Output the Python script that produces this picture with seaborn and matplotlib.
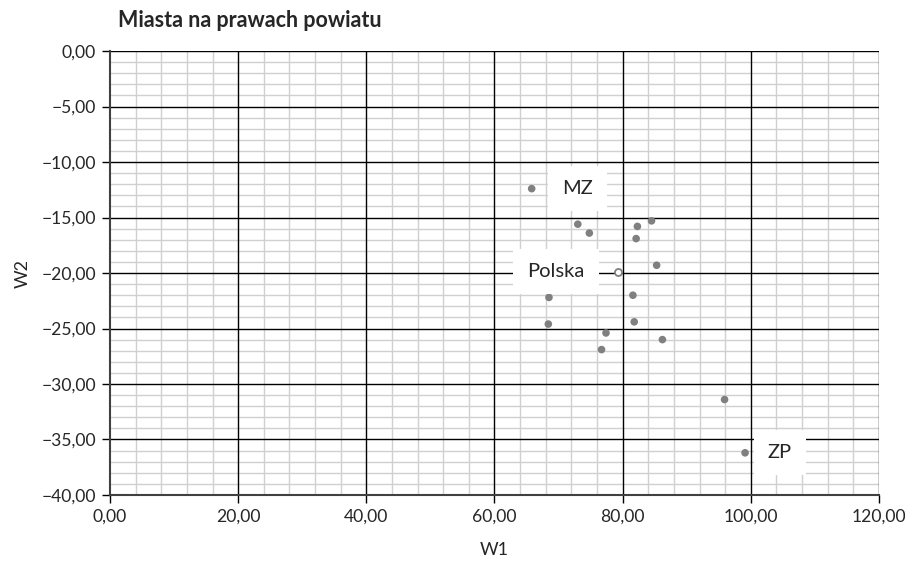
import numpy as np
import pandas as pd
import seaborn as sns
import matplotlib.pyplot as plt
from matplotlib.ticker import MultipleLocator, FuncFormatter

# dane
w1 = [65.8, 73.0, 74.8, 82.3, 84.5, 82.1, 85.3, 68.5, 81.6, 68.4, 81.8, 77.4, 86.2, 76.7, 95.9, 99.1]
w2 = [-12.4, -15.6, -16.4, -15.8, -15.3, -16.9, -19.3, -22.2, -22.0, -24.6, -24.4, -25.4, -26.0, -26.9, -31.4, -36.2]
polska_w1 = [79.3]
polska_w2 = [-19.9]

# etykiety punktow
label_names = ['MZ', 'Polska', 'ZP']
label_x = [65.8, 79.3, 99.1]
label_y = [-12.4, -19.9, -36.2]
label_dx = [7.2, -9.7, 5.4]

df = pd.DataFrame({'W1': w1, 'W2': w2})

sns.set_style('white')
plt.rcParams['font.family'] = ['Lato', 'DejaVu Sans']
plt.rcParams['axes.unicode_minus'] = True

fig = plt.figure(figsize=(9.05, 5.67), dpi=100)
ax = fig.add_axes([0.1215, 0.127, 0.8498, 0.783])

sns.scatterplot(data=df, x='W1', y='W2', color='#808080', s=30, edgecolor='none', ax=ax, zorder=5)
ax.scatter(polska_w1, polska_w2, s=26, facecolor='white', edgecolor='#808080', linewidth=1.3, zorder=5)

for name, x, y, dx in zip(label_names, label_x, label_y, label_dx):
    ax.text(x + dx, y, name, fontsize=14.5, ha='center', va='center', zorder=6,
            bbox=dict(boxstyle='square,pad=0.7', facecolor='white', edgecolor='none'))

ax.set_xlim(0, 120)
ax.set_ylim(-40, 0)
ax.xaxis.set_major_locator(MultipleLocator(20))
ax.xaxis.set_minor_locator(MultipleLocator(4))
ax.yaxis.set_major_locator(MultipleLocator(5))
ax.yaxis.set_minor_locator(MultipleLocator(1))

fmt = FuncFormatter(lambda v, p: ('%.2f' % v).replace('.', ',').replace('-', '\u2212'))
ax.xaxis.set_major_formatter(fmt)
ax.yaxis.set_major_formatter(fmt)

# siatka pomocnicza szara, glowna czarna nad nia
ax.grid(which='minor', color='#d0d0d0', linewidth=1.0)
ax.set_axisbelow(True)
for xv in np.arange(20, 121, 20):
    ax.axvline(xv, color='black', linewidth=1.0, zorder=1.5)
for yv in np.arange(-35, 1, 5):
    ax.axhline(yv, color='black', linewidth=1.0, zorder=1.5)

for s in ax.spines.values():
    s.set_visible(False)
for side in ['left', 'bottom']:
    ax.spines[side].set_visible(True)
    ax.spines[side].set_color('#404040')
    ax.spines[side].set_linewidth(1.5)

ax.tick_params(which='major', direction='out', length=6, width=1, color='black',
               labelsize=12.6, bottom=True, left=True, pad=4)
ax.tick_params(which='minor', length=0)

ax.set_xlabel('W1', fontsize=13, labelpad=12)
ax.set_ylabel('W2', fontsize=13, labelpad=8)
fig.text(0.130, 0.963, 'Miasta na prawach powiatu', fontsize=15.5, fontweight='bold',
         ha='left', va='center')

fig.savefig('out.png', dpi=100, facecolor='white')
